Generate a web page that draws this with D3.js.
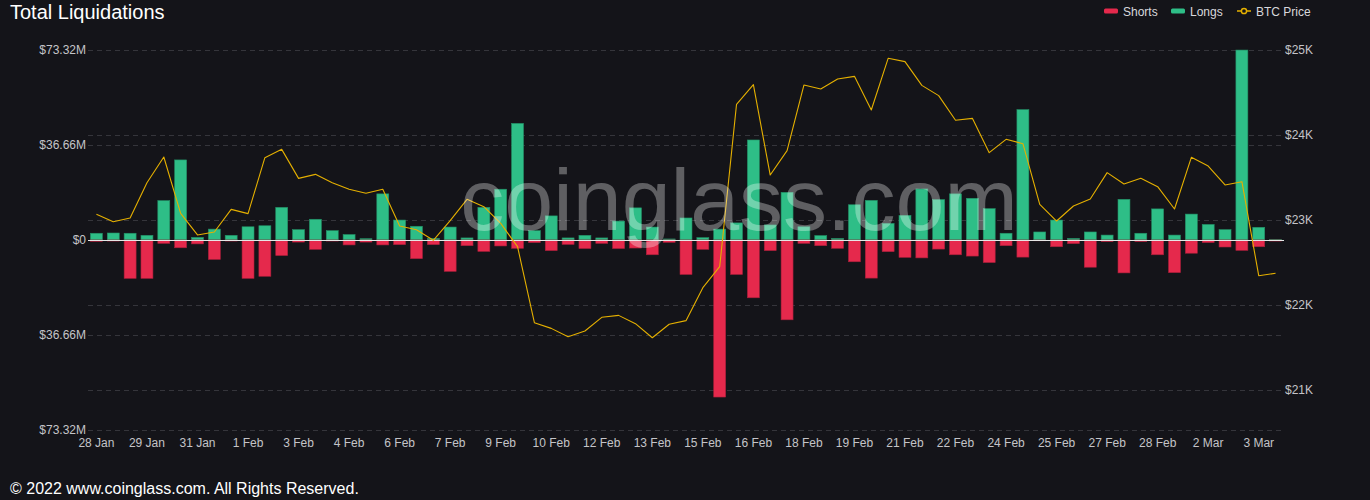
<!DOCTYPE html>
<html>
<head>
<meta charset="utf-8">
<script src="https://cdn.jsdelivr.net/npm/d3@7"></script>
<style>
  html, body { margin: 0; padding: 0; background: #141419; }
  svg { display: block; font-family: "Liberation Sans", Arial, Helvetica, sans-serif; }
</style>
</head>
<body>
<svg id="chart" width="1370" height="500"></svg>
<script>
// ---------- DATA ----------
const categories = [
  "28 Jan 00:00","28 Jan 12:00","29 Jan 00:00","29 Jan 12:00","30 Jan 00:00","30 Jan 12:00","31 Jan 00:00","31 Jan 12:00",
  "1 Feb 00:00","1 Feb 12:00","2 Feb 00:00","2 Feb 12:00","3 Feb 00:00","3 Feb 12:00","4 Feb 00:00","4 Feb 12:00",
  "5 Feb 00:00","5 Feb 12:00","6 Feb 00:00","6 Feb 12:00","7 Feb 00:00","7 Feb 12:00","8 Feb 00:00","8 Feb 12:00",
  "9 Feb 00:00","9 Feb 12:00","10 Feb 00:00","10 Feb 12:00","11 Feb 00:00","11 Feb 12:00","12 Feb 00:00","12 Feb 12:00",
  "13 Feb 00:00","13 Feb 12:00","14 Feb 00:00","14 Feb 12:00","15 Feb 00:00","15 Feb 12:00","16 Feb 00:00","16 Feb 12:00",
  "17 Feb 00:00","17 Feb 12:00","18 Feb 00:00","18 Feb 12:00","19 Feb 00:00","19 Feb 12:00","20 Feb 00:00","20 Feb 12:00",
  "21 Feb 00:00","21 Feb 12:00","22 Feb 00:00","22 Feb 12:00","23 Feb 00:00","23 Feb 12:00","24 Feb 00:00","24 Feb 12:00",
  "25 Feb 00:00","25 Feb 12:00","26 Feb 00:00","26 Feb 12:00","27 Feb 00:00","27 Feb 12:00","28 Feb 00:00","28 Feb 12:00",
  "1 Mar 00:00","1 Mar 12:00","2 Mar 00:00","2 Mar 12:00","3 Mar 00:00","3 Mar 12:00","4 Mar 00:00"
];

// Longs liquidations ($M)
const longs = [
  2.6, 2.7, 2.6, 1.8, 15.2, 30.9, 1.0, 4.2, 1.8, 5.1,
  5.5, 12.6, 4.0, 8.0, 3.6, 2.1, 0.5, 17.8, 7.7, 5.3,
  0.6, 5.0, 0.8, 12.6, 19.6, 45.0, 3.6, 9.3, 0.8, 1.8,
  0.8, 7.3, 12.4, 5.0, 0.4, 8.5, 0.9, 4.2, 6.6, 38.6,
  5.8, 18.4, 5.1, 1.7, 0.6, 13.6, 15.3, 6.4, 9.5, 19.7,
  15.6, 17.8, 16.1, 12.1, 2.6, 50.3, 3.1, 7.7, 0.6, 3.1,
  1.9, 15.7, 2.6, 12.0, 1.9, 10.0, 6.0, 4.0, 73.3, 4.9,
  0.2
];

// Shorts liquidations ($M)
const shorts = [
  0.5, 0.4, 14.8, 14.8, 1.3, 3.0, 1.5, 7.5, 0.4, 14.8,
  14.0, 6.0, 0.8, 3.6, 0.4, 1.9, 0.8, 1.9, 1.8, 7.2,
  1.8, 12.1, 2.2, 4.4, 2.3, 3.2, 1.0, 4.1, 1.7, 3.3,
  1.3, 3.3, 3.1, 5.7, 0.9, 13.3, 3.6, 60.6, 13.3, 22.3,
  4.1, 30.8, 1.3, 2.2, 3.2, 8.4, 14.7, 4.5, 6.7, 6.9,
  3.5, 5.7, 6.2, 8.7, 2.2, 6.6, 0.3, 2.6, 1.4, 10.5,
  0.6, 12.7, 0.6, 5.7, 12.6, 5.1, 1.0, 2.7, 4.0, 2.6,
  0.4
];

// BTC price ($)
const btcPrice = [
  23067, 22980, 23024, 23439, 23741, 23078, 22824, 22859, 23125, 23075,
  23733, 23831, 23490, 23537, 23439, 23361, 23314, 23361, 22929, 22886,
  22761, 22992, 23243, 23157, 22961, 22686, 21792, 21725, 21627, 21694,
  21855, 21878, 21780, 21615, 21773, 21816, 22204, 22451, 24361, 24592,
  23529, 23816, 24588, 24541, 24659, 24690, 24294, 24902, 24863, 24584,
  24463, 24173, 24196, 23792, 23949, 23898, 23184, 22988, 23165, 23247,
  23557, 23424, 23490, 23392, 23129, 23737, 23635, 23412, 23451, 22345,
  22373
];

const leftTicks = [73.32, 36.66, 0, -36.66, -73.32];
const rightTicks = [21000, 22000, 23000, 24000, 25000];

// ---------- CHART ----------
const svg = d3.select("#chart");
const W = 1370, H = 500;
const plot = { left: 88, right: 1284, top: 50, bottom: 430 };

const colors = {
  bg: "#141419",
  longs: "#2ebe87",
  shorts: "#e5294c",
  btc: "#e5b000",
  grid: "#35353b",
  axisText: "#c4c4c8",
  zero: "#e6e6e6"
};

svg.append("rect").attr("width", W).attr("height", H).attr("fill", colors.bg);

const x = d3.scaleBand()
  .domain(categories)
  .range([plot.left, plot.right])
  .paddingInner(0.29)
  .paddingOuter(0.145);

const yL = d3.scaleLinear().domain([-73.32, 73.32]).range([plot.bottom, plot.top]);
const yR = d3.scaleLinear().domain([21000, 25000]).range([390, 50]);

// grid lines (left axis)
const gGrid = svg.append("g");
gGrid.selectAll("line.gl")
  .data(leftTicks.filter(d => d !== 0))
  .join("line")
  .attr("x1", plot.left).attr("x2", plot.right)
  .attr("y1", d => Math.round(yL(d)) + 0.5).attr("y2", d => Math.round(yL(d)) + 0.5)
  .attr("stroke", colors.grid).attr("stroke-dasharray", "5,4");
// grid lines (right axis)
gGrid.selectAll("line.gr")
  .data(rightTicks.filter(d => d !== 25000))
  .join("line")
  .attr("x1", plot.left).attr("x2", plot.right)
  .attr("y1", d => Math.round(yR(d)) + 0.5).attr("y2", d => Math.round(yR(d)) + 0.5)
  .attr("stroke", colors.grid).attr("stroke-dasharray", "5,4");

// left axis
const leftAxis = d3.axisLeft(yL)
  .tickValues(leftTicks)
  .tickSize(0)
  .tickPadding(2)
  .tickFormat(d => d === 0 ? "$0" : "$" + d3.format(".2f")(Math.abs(d)) + "M");
const gL = svg.append("g").attr("transform", `translate(${plot.left},0)`).call(leftAxis);
gL.select(".domain").remove();
gL.selectAll("text").attr("fill", colors.axisText).style("font-size", "12px")
  .style("font-family", "'Liberation Sans', Arial, sans-serif");

// right axis
const rightAxis = d3.axisRight(yR)
  .tickValues(rightTicks)
  .tickSize(0)
  .tickPadding(1)
  .tickFormat(d => "$" + (d / 1000) + "K");
const gR = svg.append("g").attr("transform", `translate(${plot.right},0)`).call(rightAxis);
gR.select(".domain").remove();
gR.selectAll("text").attr("fill", colors.axisText).style("font-size", "12px")
  .style("font-family", "'Liberation Sans', Arial, sans-serif");

// x axis
const xAxis = d3.axisBottom(x)
  .tickValues(categories.filter((d, i) => i % 3 === 0))
  .tickSize(0)
  .tickPadding(8)
  .tickFormat(d => d.split(" ").slice(0, 2).join(" "));
const gX = svg.append("g").attr("transform", `translate(0,${plot.bottom})`).call(xAxis);
gX.select(".domain").remove();
gX.selectAll("text").attr("fill", colors.axisText).style("font-size", "12px")
  .style("font-family", "'Liberation Sans', Arial, sans-serif");

// bars
const gBars = svg.append("g");
gBars.selectAll("rect.long")
  .data(longs)
  .join("rect")
  .attr("x", (d, i) => x(categories[i]))
  .attr("width", x.bandwidth())
  .attr("y", d => yL(d))
  .attr("height", d => yL(0) - yL(d))
  .attr("fill", colors.longs)
  .attr("stroke", "#238f66").attr("stroke-width", 0.6);
gBars.selectAll("rect.short")
  .data(shorts)
  .join("rect")
  .attr("x", (d, i) => x(categories[i]))
  .attr("width", x.bandwidth())
  .attr("y", yL(0))
  .attr("height", d => yL(-d) - yL(0))
  .attr("fill", colors.shorts)
  .attr("stroke", "#a91f3a").attr("stroke-width", 0.6);

// zero line
svg.append("line")
  .attr("x1", plot.left).attr("x2", plot.right)
  .attr("y1", Math.round(yL(0)) + 0.5).attr("y2", Math.round(yL(0)) + 0.5)
  .attr("stroke", colors.zero).attr("stroke-width", 1);

// BTC price line
const line = d3.line()
  .x((d, i) => x(categories[i]) + x.bandwidth() / 2)
  .y(d => yR(d));
svg.append("path")
  .datum(btcPrice)
  .attr("d", line)
  .attr("fill", "none")
  .attr("stroke", colors.btc)
  .attr("stroke-width", 1.1)
  .attr("stroke-linejoin", "round");

// watermark
svg.append("text")
  .attr("x", 739).attr("y", 230)
  .attr("text-anchor", "middle")
  .style("font-size", "88px")
  .style("font-family", "'Liberation Sans', Arial, sans-serif")
  .attr("fill", "#ffffff").attr("fill-opacity", 0.32)
  .text("coinglass.com");

// title
svg.append("text")
  .attr("x", 10).attr("y", 18.5)
  .style("font-size", "20px")
  .attr("fill", "#ffffff")
  .text("Total Liquidations");

// legend
const legend = svg.append("g").style("font-size", "12px");
const legendItems = [
  { name: "Shorts", type: "bar", color: colors.shorts, x: 1104 },
  { name: "Longs", type: "bar", color: colors.longs, x: 1171 },
  { name: "BTC Price", type: "line", color: colors.btc, x: 1237 }
];
legendItems.forEach(it => {
  if (it.type === "bar") {
    legend.append("rect").attr("x", it.x).attr("y", 8.5).attr("width", 14).attr("height", 5)
      .attr("rx", 1.5).attr("fill", it.color);
  } else {
    legend.append("line").attr("x1", it.x).attr("x2", it.x + 14).attr("y1", 11).attr("y2", 11)
      .attr("stroke", it.color).attr("stroke-width", 1.5);
    legend.append("circle").attr("cx", it.x + 7).attr("cy", 11).attr("r", 2.6)
      .attr("fill", colors.bg).attr("stroke", it.color).attr("stroke-width", 1.5);
  }
  legend.append("text").attr("x", it.x + 19).attr("y", 15.5)
    .attr("fill", "#d8d8dc").text(it.name);
});

// footer
svg.append("text")
  .attr("x", 10).attr("y", 494)
  .style("font-size", "16px")
  .attr("fill", "#ffffff")
  .text("© 2022 www.coinglass.com. All Rights Reserved.");
</script>
</body>
</html>
